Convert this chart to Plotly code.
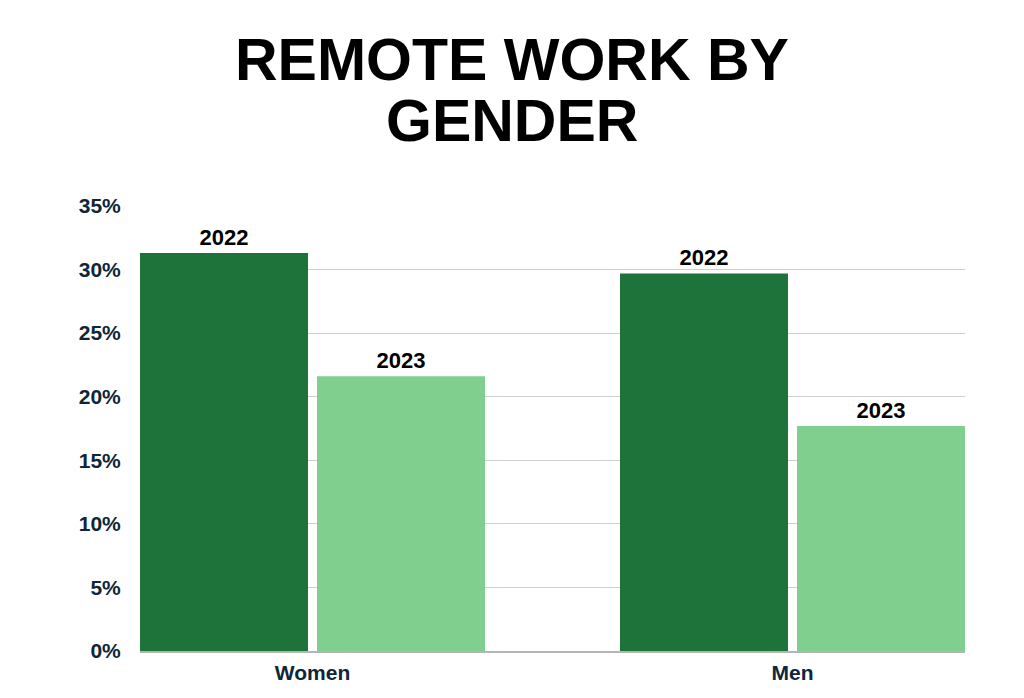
import plotly.graph_objects as go

# data
genders = ["Women", "Men"]
years = ["2022", "2023"]
share_2022 = [31.3, 29.7]
share_2023 = [21.6, 17.7]

colors = {"2022": "#1e733b", "2023": "#80cf8f"}
series = {"2022": share_2022, "2023": share_2023}

fig = go.Figure()
for yr in years:
    fig.add_trace(go.Bar(
        x=genders,
        y=series[yr],
        name=yr,
        marker=dict(color=colors[yr], line=dict(width=0)),
        text=[yr] * len(genders),
        textposition="outside",
        textfont=dict(family="Liberation Sans, Arial", size=22, color="#000000", weight="bold"),
        cliponaxis=False,
    ))

# page body adds an 8px offset, margins account for it
fig.update_layout(
    width=1024,
    height=698,
    margin=dict(l=132, r=67, t=198, b=55),
    paper_bgcolor="white",
    plot_bgcolor="white",
    barmode="group",
    bargap=0.2625,
    bargroupgap=0.0508,
    showlegend=False,
    font=dict(family="Liberation Sans, Arial", color="#0f2538"),
)

# two-line title as annotations so the line spacing matches
title_lines = ["<b>REMOTE WORK BY</b>", "<b>GENDER</b>"]
for txt, ypos in zip(title_lines, [1.328, 1.191]):
    fig.add_annotation(
        text=txt, x=0.451, y=ypos, xref="paper", yref="paper",
        showarrow=False, xanchor="center", yanchor="middle",
        font=dict(family="Liberation Sans, Arial", size=59, color="#000000"),
    )

fig.update_xaxes(
    type="category",
    range=[-0.3594, 1.3594],
    showgrid=False,
    showline=True, linecolor="#b5b5b5", linewidth=2,
    ticks="outside", ticklen=2, tickcolor="rgba(0,0,0,0)",
    tickfont=dict(size=21, color="#0f2538", weight="bold"),
)
fig.update_yaxes(
    range=[0, 35],
    dtick=5,
    ticksuffix="%",
    showgrid=True, gridcolor="#cfcfcf", gridwidth=1,
    zeroline=False,
    ticks="outside", ticklen=14, tickcolor="rgba(0,0,0,0)",
    tickfont=dict(size=21, color="#0f2538", weight="bold"),
)

fig.write_html("out.html")
